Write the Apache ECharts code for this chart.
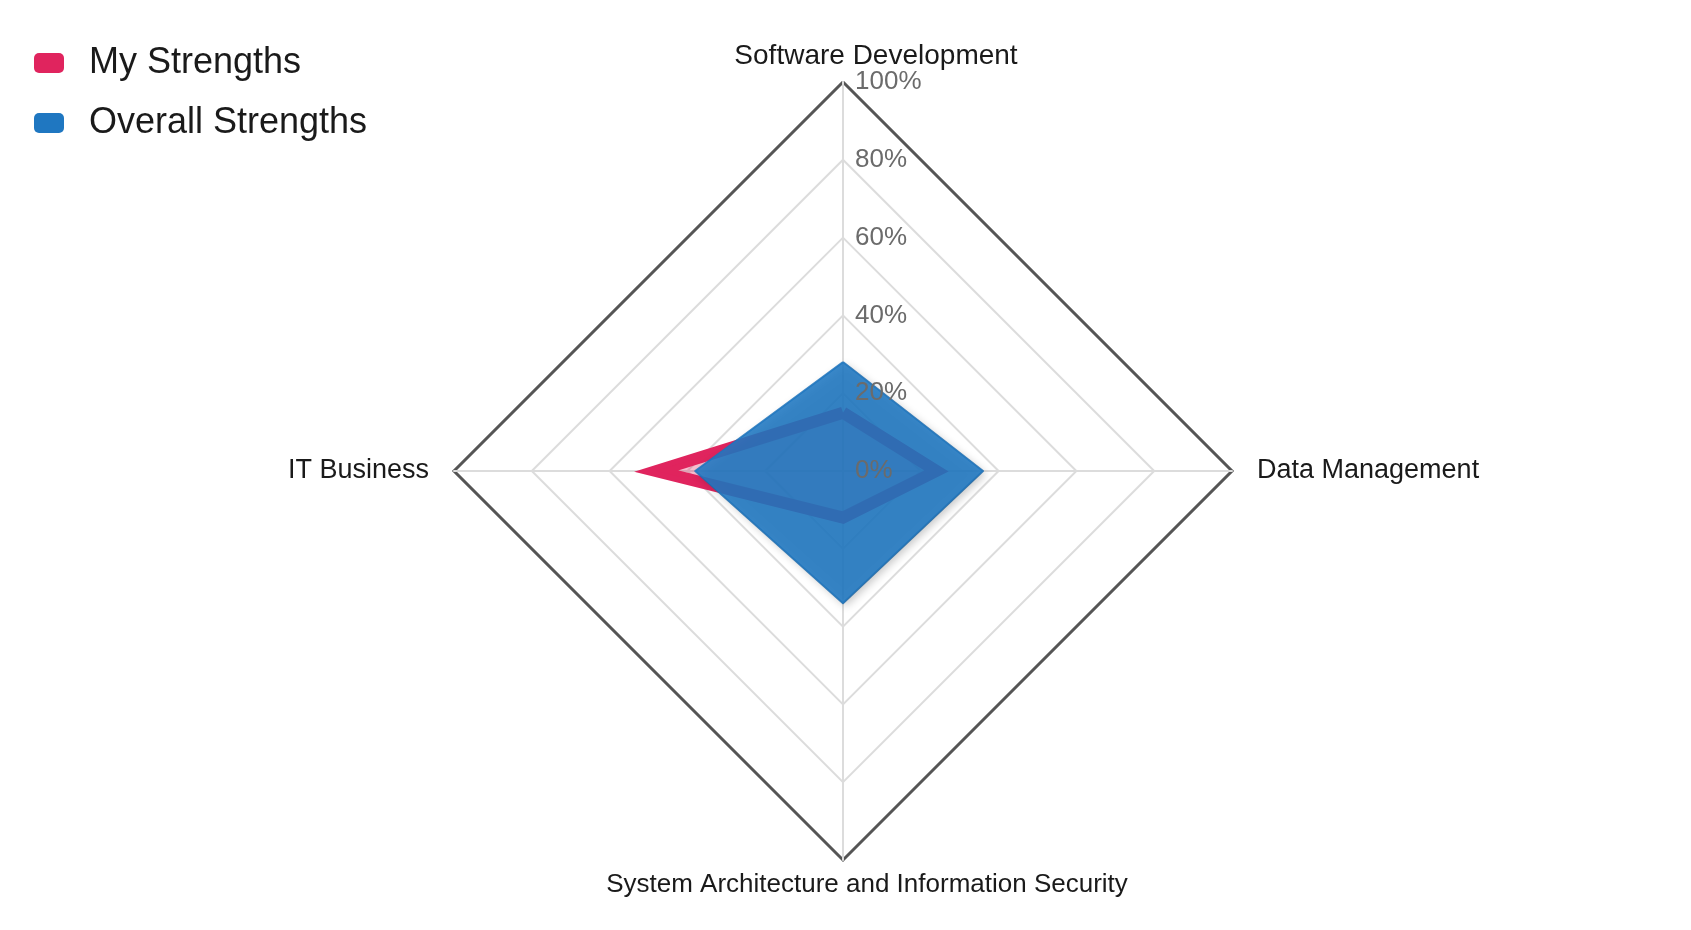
<!DOCTYPE html>
<html>
<head>
<meta charset="utf-8">
<script src="https://cdn.jsdelivr.net/npm/echarts@6/dist/echarts.min.js"></script>
<style>
    html, body { margin: 0; padding: 0; background: #fff; }
    #chart { width: 1691px; height: 930px; }
</style>
</head>
<body>
<div id="chart"></div>
<script>
// axes go counter-clockwise from the top
const indicatorNames = ['Software Development', 'IT Business', 'System Architecture and Information Security', 'Data Management'];
const nameStyles = ['top', 'left', 'bottom', 'right'];
const seriesNames = ['My Strengths', 'Overall Strengths'];
const myStrengths = [15, 48, 12, 24];
const overallStrengths = [28, 38, 34, 36];
const maxValue = 100;

const red = '#e0245e';
const blue = '#1f77c1';

const chart = echarts.init(document.getElementById('chart'));

function plainIndicators() {
    return indicatorNames.map(n => ({ name: n, max: maxValue, min: 0 }));
}

// only the top axis carries the percent labels, to the right of it
const labelIndicators = plainIndicators();
labelIndicators[0].axisLabel = {
    show: true,
    fontSize: 26,
    color: '#6b6b6b',
    margin: -12,
    align: 'left',
    formatter: '{value}%'
};

const baseRadar = {
    center: [843, 471],
    radius: 389,
    shape: 'polygon',
    splitArea: { show: false },
    axisLabel: { show: false }
};

const option = {
    backgroundColor: '#fff',
    textStyle: { fontFamily: 'Liberation Sans, Arial, sans-serif' },
    legend: {
        orient: 'vertical',
        left: 29,
        top: 40,
        itemWidth: 30,
        itemHeight: 20,
        itemGap: 24,
        icon: 'roundRect',
        data: seriesNames,
        textStyle: {
            fontSize: 36,
            color: '#1a1a1a',
            padding: [0, 0, 0, 20]
        }
    },
    radar: [
        Object.assign({}, baseRadar, {
            splitNumber: 5,
            indicator: plainIndicators(),
            nameGap: 12,
            axisName: {
                color: '#1a1a1a',
                fontSize: 27,
                formatter: function (name) {
                    const i = indicatorNames.indexOf(name);
                    return '{' + nameStyles[i] + '|' + name + '}';
                },
                rich: {
                    top: { fontSize: 28, color: '#1a1a1a', padding: [0, 0, 0, 66] },
                    left: { fontSize: 27, color: '#1a1a1a', padding: [0, 13, 0, 0] },
                    right: { fontSize: 27, color: '#1a1a1a', padding: [0, 0, 0, 13] },
                    bottom: { fontSize: 26, color: '#1a1a1a', padding: [0, 0, 0, 48] }
                }
            },
            axisLine: { lineStyle: { color: '#dcdcdc', width: 2 } },
            splitLine: { lineStyle: { color: '#dcdcdc', width: 2 } }
        }),
        Object.assign({}, baseRadar, {
            // outer frame only
            splitNumber: 1,
            indicator: plainIndicators(),
            axisName: { show: false },
            axisLine: { show: false },
            splitLine: { lineStyle: { color: ['rgba(0,0,0,0)', '#555'], width: 3 } }
        }),
        Object.assign({}, baseRadar, {
            // percent labels drawn above the areas
            z: 6,
            splitNumber: 5,
            indicator: labelIndicators,
            axisName: { show: false },
            axisLine: { show: false },
            splitLine: { show: false }
        })
    ],
    series: [
        {
            type: 'radar',
            radarIndex: 0,
            z: 3,
            symbol: 'none',
            data: [
                {
                    name: seriesNames[0],
                    value: myStrengths,
                    itemStyle: { color: red },
                    lineStyle: { color: red, width: 12, join: 'miter' },
                    areaStyle: { color: red, opacity: 0.3 }
                }
            ]
        },
        {
            type: 'radar',
            radarIndex: 0,
            z: 4,
            symbol: 'none',
            data: [
                {
                    name: seriesNames[1],
                    value: overallStrengths,
                    itemStyle: { color: blue },
                    lineStyle: { color: blue, width: 2, opacity: 0.85 },
                    areaStyle: {
                        color: blue,
                        opacity: 0.88,
                        shadowBlur: 8,
                        shadowColor: 'rgba(0,0,0,0.25)',
                        shadowOffsetX: 3,
                        shadowOffsetY: 3
                    }
                }
            ]
        }
    ]
};

chart.setOption(option);
</script>
</body>
</html>
